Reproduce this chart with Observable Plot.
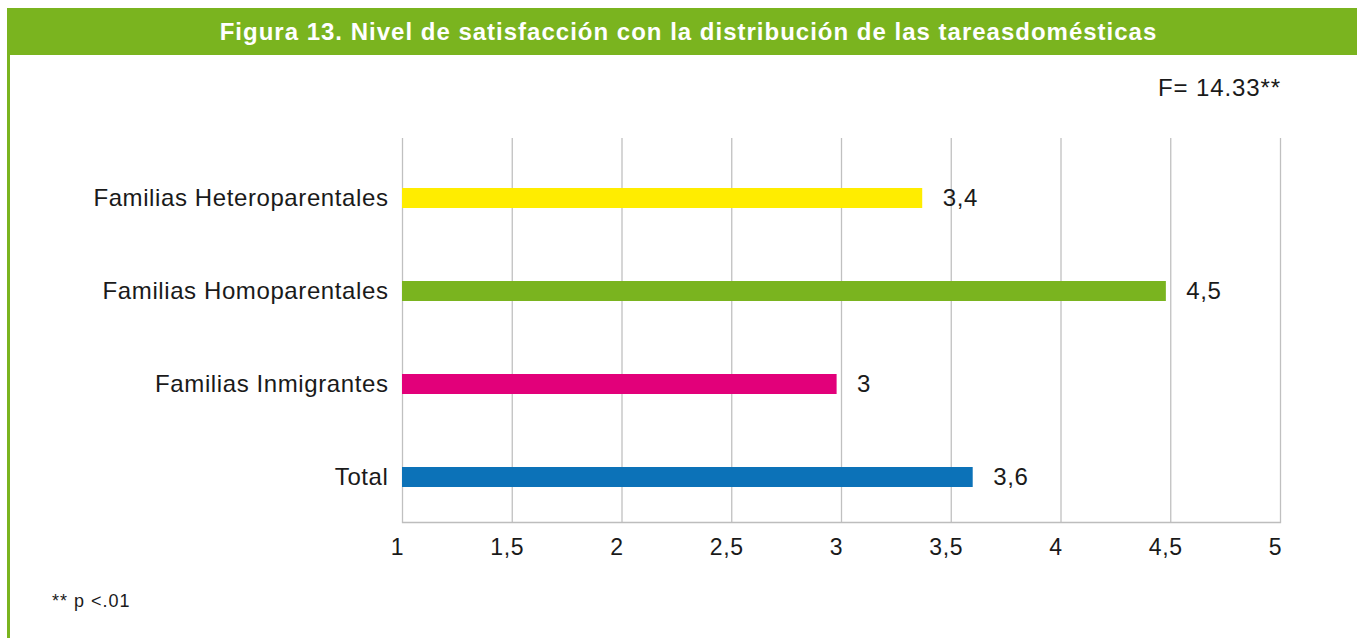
<!DOCTYPE html>
<html>
<head>
<meta charset="utf-8">
<script src="https://cdn.jsdelivr.net/npm/d3@7"></script>
<script src="https://cdn.jsdelivr.net/npm/@observablehq/plot@0.6"></script>
<style>
  html, body { margin: 0; padding: 0; background: #fff; }
  body { width: 1357px; height: 638px; position: relative; overflow: hidden; font-family: "Liberation Sans", Arial, sans-serif; color: #1a1a1a; }
  #header { position: absolute; left: 7px; top: 8px; width: 1350px; height: 47px; background: #7AB41F; color: #fff;
            font-weight: bold; font-size: 24px; display: flex; align-items: center; justify-content: center; letter-spacing: 1px; padding-left: 13px; box-sizing: border-box; }
  #leftbar { position: absolute; left: 7px; top: 55px; width: 3px; height: 583px; background: #7AB41F; }
  #subtitle { position: absolute; right: 76px; top: 74px; font-size: 24px; letter-spacing: 0.9px; }
  #chart { position: absolute; left: 0; top: 55px; }
  #chart svg text { letter-spacing: 0.6px; }
  #caption { position: absolute; left: 52px; top: 591px; font-size: 18px; letter-spacing: 1px; }
</style>
</head>
<body>
<div id="header">Figura 13. Nivel de satisfacción con la distribución de las tareasdomésticas</div>
<div id="leftbar"></div>
<div id="subtitle">F= 14.33**</div>
<div id="chart"></div>
<div id="caption">** p &lt;.01</div>
<script>
const categories = ["Familias Heteroparentales", "Familias Homoparentales", "Familias Inmigrantes", "Total"];
const values = [3.37, 4.48, 2.98, 3.6];
const valueLabels = ["3,4", "4,5", "3", "3,6"];
const colors = ["#FFED00", "#7AB41F", "#E2007A", "#0C72B8"];
const xTicks = [1, 1.5, 2, 2.5, 3, 3.5, 4, 4.5, 5];

const data = categories.map((c, i) => ({category: c, value: values[i], label: valueLabels[i], color: colors[i]}));
const fmt = d => String(d).replace(".", ",");

const chart = Plot.plot({
  width: 1357,
  height: 583,
  marginLeft: 402,
  marginRight: 77,
  marginTop: 83,
  marginBottom: 116,
  style: {fontFamily: "'Liberation Sans', Arial, sans-serif", fontSize: "24px", color: "#1a1a1a", background: "transparent"},
  x: {domain: [1, 5], ticks: xTicks, tickFormat: fmt},
  y: {domain: categories, paddingInner: 0.79, paddingOuter: 0.449, align: 0.587},
  marks: [
    Plot.gridX(xTicks, {stroke: "#c0c0c0", strokeOpacity: 1, strokeWidth: 1.3}),
    Plot.frame({anchor: "bottom", stroke: "#bdbdbd", strokeWidth: 1.3}),
    Plot.barX(data, {x1: 1, x2: "value", y: "category", fill: "color"}),
    Plot.text(data, {x: "value", y: "category", text: "label", textAnchor: "start", dx: 20, fontSize: 24, fill: "#1a1a1a"}),
    Plot.axisX({ticks: xTicks, tickFormat: fmt, tickSize: 0, tickPadding: 16, dx: -5, fontSize: 23, label: null, fill: "#1a1a1a"}),
    Plot.axisY({tickSize: 0, tickPadding: 14, fontSize: 24, label: null, fill: "#1a1a1a"})
  ]
});
document.getElementById("chart").appendChild(chart);
</script>
</body>
</html>
